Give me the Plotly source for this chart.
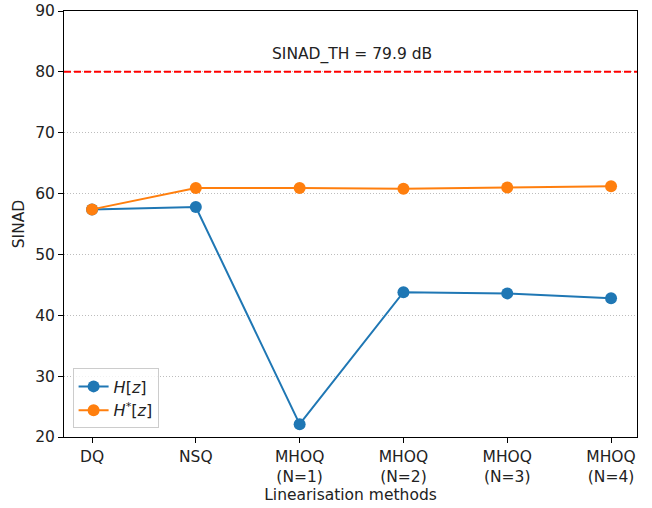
import plotly.graph_objects as go

categories = ["DQ", "NSQ", "MHOQ<br>(N=1)", "MHOQ<br>(N=2)", "MHOQ<br>(N=3)", "MHOQ<br>(N=4)"]
h_values = [57.4, 57.8, 22.1, 43.8, 43.6, 42.8]
hstar_values = [57.4, 60.9, 60.9, 60.8, 61.0, 61.2]
threshold = 80
threshold_label = "SINAD_TH = 79.9 dB"
y_ticks = [20, 30, 40, 50, 60, 70, 80, 90]

xs = list(range(len(categories)))
FONT = "DejaVu Sans"
FS = 15.5

fig = go.Figure()
fig.add_trace(go.Scatter(x=xs, y=h_values, mode="lines+markers", name="<i>H</i>[<i>z</i>]",
                         line=dict(color="#1f77b4", width=2), marker=dict(size=12, color="#1f77b4")))
fig.add_trace(go.Scatter(x=xs, y=hstar_values, mode="lines+markers", name="<i>H</i><sup>*</sup>[<i>z</i>]",
                         line=dict(color="#ff7f0e", width=2), marker=dict(size=12, color="#ff7f0e")))

fig.add_shape(type="line", xref="paper", x0=0, x1=1, yref="y", y0=threshold, y1=threshold,
              line=dict(color="red", width=2, dash="7px,3px"))
fig.add_annotation(x=2.5, y=threshold + 2.9, xref="x", yref="y", text=threshold_label, showarrow=False,
                   font=dict(size=FS, color="#222222", family=FONT))

fig.update_layout(
    width=652, height=508,
    margin=dict(l=64, r=15, t=11, b=71),
    paper_bgcolor="white", plot_bgcolor="white",
    font=dict(family=FONT, size=FS, color="#222222"),
    showlegend=True,
    legend=dict(x=0.015, y=0.02, xanchor="left", yanchor="bottom",
                bgcolor="rgba(255,255,255,0.8)", bordercolor="#cccccc", borderwidth=1,
                font=dict(size=16, family=FONT)),
    xaxis=dict(range=[-0.27, 5.25], tickmode="array", tickvals=xs, ticktext=categories,
               showline=True, linecolor="black", linewidth=1, mirror=True, automargin=False,
               ticks="outside", ticklen=5, tickcolor="black", showgrid=False, zeroline=False,
               title=dict(text="Linearisation methods", font=dict(size=FS), standoff=2)),
    yaxis=dict(range=[20, 90], tickmode="array", tickvals=y_ticks, automargin=False,
               showline=True, linecolor="black", linewidth=1, mirror=True,
               ticks="outside", ticklen=5, tickcolor="black",
               showgrid=True, gridcolor="#bdbdbd", griddash="1px,2px", gridwidth=1, zeroline=False,
               title=dict(text="SINAD", font=dict(size=FS), standoff=6)),
)

fig.write_html("out.html", config={"displayModeBar": False},
               post_script="document.body.style.margin='0px';")
